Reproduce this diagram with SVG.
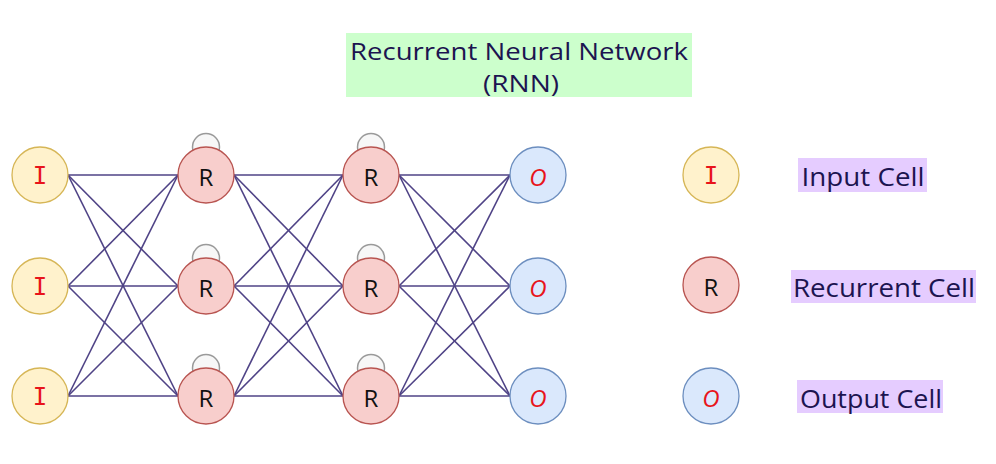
<svg xmlns="http://www.w3.org/2000/svg" width="996" height="464" viewBox="0 0 996 464">
<style>
.cI{fill:#fff2cc;stroke:#d6b656;stroke-width:1.3}
.cR{fill:#f8cecc;stroke:#b85450;stroke-width:1.3}
.cO{fill:#dae8fc;stroke:#6c8ebf;stroke-width:1.3}
.loop{fill:#f7f7f7;stroke:#9a9a9a;stroke-width:1.5}
.lbl{font-family:"Open Sans","DejaVu Sans",sans-serif;font-size:24px;text-anchor:middle;dominant-baseline:central}
.ii{font-family:"DejaVu Sans Mono","Liberation Mono",monospace;font-size:24px}
.red{fill:#e8141b}
.blk{fill:#111111}
.ital{font-style:italic}
.conn line{stroke:#4f4386;stroke-width:1.6}
.txt{font-family:"Open Sans","DejaVu Sans",sans-serif;font-size:26px;fill:#1c1450}
.ttl{font-family:"Open Sans","DejaVu Sans",sans-serif;font-size:23px;fill:#1c1450}
</style>
<rect width="996" height="464" fill="#ffffff"/>
<g id="title">
<rect x="346" y="33" width="346" height="64" fill="#ccffcc"/>
<text class="ttl" x="519" y="60" text-anchor="middle" textLength="338" lengthAdjust="spacingAndGlyphs">Recurrent Neural Network</text>
<text class="ttl" x="521" y="92" text-anchor="middle" textLength="76" lengthAdjust="spacingAndGlyphs">(RNN)</text>
</g>
<g class="conn" id="connectors">
<line x1="68" y1="175" x2="178" y2="175"/><line x1="68" y1="175" x2="178" y2="286"/><line x1="68" y1="175" x2="178" y2="396"/>
<line x1="68" y1="286" x2="178" y2="175"/><line x1="68" y1="286" x2="178" y2="286"/><line x1="68" y1="286" x2="178" y2="396"/>
<line x1="68" y1="396" x2="178" y2="175"/><line x1="68" y1="396" x2="178" y2="286"/><line x1="68" y1="396" x2="178" y2="396"/>
<line x1="234" y1="175" x2="343" y2="175"/><line x1="234" y1="175" x2="343" y2="286"/><line x1="234" y1="175" x2="343" y2="396"/>
<line x1="234" y1="286" x2="343" y2="175"/><line x1="234" y1="286" x2="343" y2="286"/><line x1="234" y1="286" x2="343" y2="396"/>
<line x1="234" y1="396" x2="343" y2="175"/><line x1="234" y1="396" x2="343" y2="286"/><line x1="234" y1="396" x2="343" y2="396"/>
<line x1="399" y1="175" x2="510" y2="175"/><line x1="399" y1="175" x2="510" y2="286"/><line x1="399" y1="175" x2="510" y2="396"/>
<line x1="399" y1="286" x2="510" y2="175"/><line x1="399" y1="286" x2="510" y2="286"/><line x1="399" y1="286" x2="510" y2="396"/>
<line x1="399" y1="396" x2="510" y2="175"/><line x1="399" y1="396" x2="510" y2="286"/><line x1="399" y1="396" x2="510" y2="396"/>
</g>
<g id="i1"><circle class="cI" cx="40" cy="175" r="28"/><text class="lbl ii red" x="40" y="176">I</text></g>
<g id="i2"><circle class="cI" cx="40" cy="286" r="28"/><text class="lbl ii red" x="40" y="287">I</text></g>
<g id="i3"><circle class="cI" cx="40" cy="396" r="28"/><text class="lbl ii red" x="40" y="397">I</text></g>
<g id="r11"><circle class="loop" cx="206" cy="147" r="13.5"/><circle class="cR" cx="206" cy="175" r="28"/><text class="lbl blk" x="206" y="176">R</text></g>
<g id="r12"><circle class="loop" cx="206" cy="258" r="13.5"/><circle class="cR" cx="206" cy="286" r="28"/><text class="lbl blk" x="206" y="287">R</text></g>
<g id="r13"><circle class="loop" cx="206" cy="368" r="13.5"/><circle class="cR" cx="206" cy="396" r="28"/><text class="lbl blk" x="206" y="397">R</text></g>
<g id="r21"><circle class="loop" cx="371" cy="147" r="13.5"/><circle class="cR" cx="371" cy="175" r="28"/><text class="lbl blk" x="371" y="176">R</text></g>
<g id="r22"><circle class="loop" cx="371" cy="258" r="13.5"/><circle class="cR" cx="371" cy="286" r="28"/><text class="lbl blk" x="371" y="287">R</text></g>
<g id="r23"><circle class="loop" cx="371" cy="368" r="13.5"/><circle class="cR" cx="371" cy="396" r="28"/><text class="lbl blk" x="371" y="397">R</text></g>
<g id="o1"><circle class="cO" cx="538" cy="175" r="28"/><text class="lbl red ital" x="538" y="176">O</text></g>
<g id="o2"><circle class="cO" cx="538" cy="286" r="28"/><text class="lbl red ital" x="538" y="287">O</text></g>
<g id="o3"><circle class="cO" cx="538" cy="396" r="28"/><text class="lbl red ital" x="538" y="397">O</text></g>
<g id="legendI"><circle class="cI" cx="711" cy="175" r="28"/><text class="lbl ii red" x="711" y="176">I</text></g>
<g id="legendR"><circle class="cR" cx="711" cy="285" r="28"/><text class="lbl blk" x="711" y="286">R</text></g>
<g id="legendO"><circle class="cO" cx="711" cy="396" r="28"/><text class="lbl red ital" x="711" y="397">O</text></g>
<g id="labelInput"><rect x="798" y="158" width="129" height="34" fill="#e5ccff"/><text class="txt" x="863" y="186" text-anchor="middle" textLength="123" lengthAdjust="spacingAndGlyphs">Input Cell</text></g>
<g id="labelRecurrent"><rect x="791" y="270" width="185" height="33" fill="#e5ccff"/><text class="txt" x="884" y="297" text-anchor="middle" textLength="182" lengthAdjust="spacingAndGlyphs">Recurrent Cell</text></g>
<g id="labelOutput"><rect x="797" y="380" width="146" height="33" fill="#e5ccff"/><text class="txt" x="871" y="408" text-anchor="middle" textLength="142" lengthAdjust="spacingAndGlyphs">Output Cell</text></g>
</svg>
